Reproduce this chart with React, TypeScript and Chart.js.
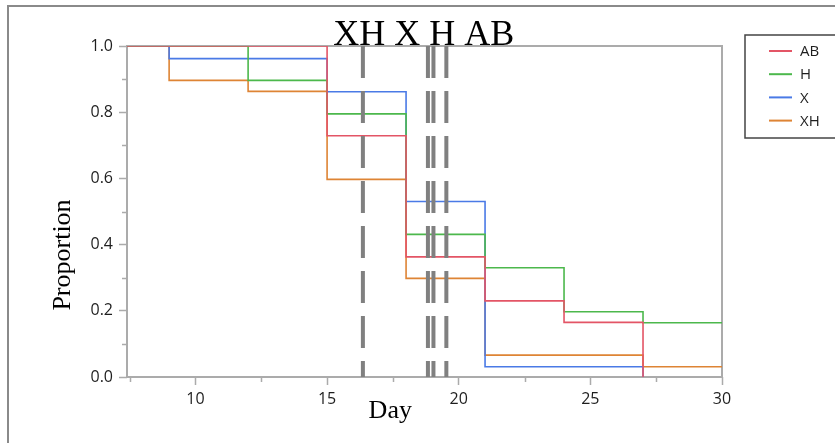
import React, { useEffect, useRef } from 'react';
import { Chart, registerables } from 'chart.js';

Chart.register(...registerables);

// ---- data ----
const groups = ['AB', 'H', 'X', 'XH'];
const groupColors = ['#E35566', '#4CB84C', '#4A7AE6', '#DE8434'];

const abDays = [7.4, 15, 18, 21, 24, 27];
const abValues = [1, 0.729, 0.363, 0.23, 0.165, 0];
const hDays = [7.4, 12, 15, 18, 21, 24, 27, 30];
const hValues = [1, 0.896, 0.795, 0.431, 0.33, 0.197, 0.164, 0.164];
const xDays = [7.4, 9, 15, 18, 21, 27];
const xValues = [1, 0.962, 0.862, 0.53, 0.031, 0];
const xhDays = [7.4, 9, 12, 15, 18, 21, 27, 30];
const xhValues = [1, 0.896, 0.863, 0.597, 0.298, 0.066, 0.031, 0.031];

const medianLabels = ['XH', 'X', 'H', 'AB'];
const medianDays = [16.36, 18.83, 19.04, 19.53];

const xMin = 7.4;
const xMax = 30;
const xTickValues = [7.5, 10, 12.5, 15, 17.5, 20, 22.5, 25, 27.5, 30];
const xMajorTicks = [10, 15, 20, 25, 30];
const yTickValues = [0, 0.1, 0.2, 0.3, 0.4, 0.5, 0.6, 0.7, 0.8, 0.9, 1.0];
const yMajorTicks = [0, 0.2, 0.4, 0.6, 0.8, 1.0];

const xTitle = 'Day';
const yTitle = 'Proportion';

const AXIS_GRAY = '#ABABAB';
const TEXT = '#1e1e1e';
const SANS = '"Open Sans", "Noto Sans", sans-serif';
const SERIF = '"Liberation Serif", "DejaVu Serif", serif';

const isMajorX = (v: number) => xMajorTicks.some((m) => Math.abs(m - v) < 1e-6);
const isMajorY = (v: number) => yMajorTicks.some((m) => Math.abs(m - v) < 1e-6);

const seriesDays = [abDays, hDays, xDays, xhDays];
const seriesValues = [abValues, hValues, xValues, xhValues];

const decorPlugin = {
  id: 'decor',
  beforeDraw(chart: any) {
    const ctx = chart.ctx;
    ctx.save();
    ctx.fillStyle = '#ffffff';
    ctx.fillRect(0, 0, chart.width, chart.height);
    ctx.strokeStyle = '#8a8a8a';
    ctx.lineWidth = 2;
    ctx.beginPath();
    ctx.moveTo(8, chart.height);
    ctx.lineTo(8, 6);
    ctx.lineTo(chart.width, 6);
    ctx.stroke();
    ctx.restore();
  },
  beforeDatasetsDraw(chart: any) {
    const ctx = chart.ctx;
    const { left, right, top, bottom } = chart.chartArea;
    const xs = chart.scales.x;
    const ys = chart.scales.y;
    ctx.save();
    ctx.strokeStyle = AXIS_GRAY;
    ctx.lineWidth = 2;
    ctx.strokeRect(left, top, right - left, bottom - top);
    // minor ticks
    ctx.lineWidth = 1.5;
    ctx.beginPath();
    xTickValues.forEach((v) => {
      if (isMajorX(v)) return;
      const px = Math.round(xs.getPixelForValue(v)) + 0.5;
      ctx.moveTo(px, bottom);
      ctx.lineTo(px, bottom + 5);
    });
    yTickValues.forEach((v) => {
      if (isMajorY(v)) return;
      const py = Math.round(ys.getPixelForValue(v)) + 0.5;
      ctx.moveTo(left, py);
      ctx.lineTo(left - 5, py);
    });
    ctx.stroke();
    ctx.restore();
  },
  afterDraw(chart: any) {
    const ctx = chart.ctx;
    const xs = chart.scales.x;
    ctx.save();
    // median label string
    ctx.fillStyle = '#000';
    ctx.font = `36px ${SERIF}`;
    ctx.textAlign = 'center';
    ctx.textBaseline = 'alphabetic';
    ctx.fillText(medianLabels.join(' '), xs.getPixelForValue(18.67), 45);
    // axis titles
    ctx.font = `26px ${SERIF}`;
    ctx.fillText(xTitle, xs.getPixelForValue(17.4), 418);
    ctx.save();
    ctx.translate(70, 255);
    ctx.rotate(-Math.PI / 2);
    ctx.fillText(yTitle, 0, 0);
    ctx.restore();
    // legend box
    const lx = 745;
    const ly = 35;
    ctx.strokeStyle = '#444';
    ctx.lineWidth = 1.5;
    ctx.strokeRect(lx, ly, 120, 103);
    ctx.font = `15px ${SANS}`;
    ctx.textAlign = 'left';
    ctx.textBaseline = 'middle';
    const items = chart.data.datasets.filter((d: any) => !d.isRef);
    items.forEach((d: any, i: number) => {
      const y = 51 + i * 23.2;
      ctx.strokeStyle = d.borderColor;
      ctx.lineWidth = 2;
      ctx.beginPath();
      ctx.moveTo(769, y);
      ctx.lineTo(792, y);
      ctx.stroke();
      ctx.fillStyle = TEXT;
      ctx.fillText(d.label, 800, y + 1);
    });
    ctx.restore();
  },
};

export default function App() {
  const ref = useRef<HTMLCanvasElement | null>(null);
  useEffect(() => {
    document.body.style.margin = '0';
    if (!ref.current) return;
    const stepSets = groups.map((g, i) => ({
      label: g,
      data: seriesDays[i].map((d, j) => ({ x: d, y: seriesValues[i][j] })),
      borderColor: groupColors[i],
      backgroundColor: groupColors[i],
      borderWidth: 1.6,
      pointRadius: 0,
      showLine: true,
      stepped: 'before' as const,
      fill: false,
      order: 2,
    }));
    const refSets = medianDays.map((d, i) => ({
      label: medianLabels[i] + ' median',
      isRef: true,
      data: [
        { x: d, y: 1 },
        { x: d, y: 0 },
      ],
      borderColor: '#808080',
      borderWidth: 4,
      borderDash: [32, 13],
      pointRadius: 0,
      showLine: true,
      fill: false,
      order: 1,
    }));
    const chart = new Chart(ref.current, {
      type: 'scatter',
      data: { datasets: [...stepSets, ...refSets] as any },
      options: {
        animation: false,
        responsive: false,
        devicePixelRatio: 1,
        layout: { padding: { left: 0, right: 113, top: 46, bottom: 0 } },
        plugins: { legend: { display: false }, tooltip: { enabled: false }, title: { display: false } },
        scales: {
          x: {
            type: 'linear',
            min: xMin,
            max: xMax,
            afterFit: (s: any) => {
              s.height = 66;
            },
            afterBuildTicks: (s: any) => {
              s.ticks = xTickValues.map((v) => ({ value: v }));
            },
            border: { display: false },
            grid: {
              drawOnChartArea: false,
              drawTicks: true,
              tickLength: 8,
              tickWidth: 1.5,
              tickColor: (c: any) => (c.tick && isMajorX(c.tick.value) ? AXIS_GRAY : 'rgba(0,0,0,0)'),
            },
            ticks: {
              autoSkip: false,
              maxRotation: 0,
              padding: 5,
              color: TEXT,
              font: { family: SANS, size: 16 },
              callback: (v: any) => (isMajorX(Number(v)) ? String(v) : ''),
            },
          },
          y: {
            type: 'linear',
            min: 0,
            max: 1,
            afterFit: (s: any) => {
              s.width = 127;
            },
            afterBuildTicks: (s: any) => {
              s.ticks = yTickValues.map((v) => ({ value: v }));
            },
            border: { display: false },
            grid: {
              drawOnChartArea: false,
              drawTicks: true,
              tickLength: 8,
              tickWidth: 1.5,
              tickColor: (c: any) => (c.tick && isMajorY(c.tick.value) ? AXIS_GRAY : 'rgba(0,0,0,0)'),
            },
            ticks: {
              autoSkip: false,
              padding: 6,
              color: TEXT,
              font: { family: SANS, size: 16 },
              callback: (v: any) => (isMajorY(Number(v)) ? Number(v).toFixed(1) : ''),
            },
          },
        },
      },
      plugins: [decorPlugin],
    });
    return () => chart.destroy();
  }, []);
  return (
    <div style={{ width: 835, height: 443 }}>
      <canvas ref={ref} width={835} height={443} style={{ display: 'block' }} />
    </div>
  );
}
